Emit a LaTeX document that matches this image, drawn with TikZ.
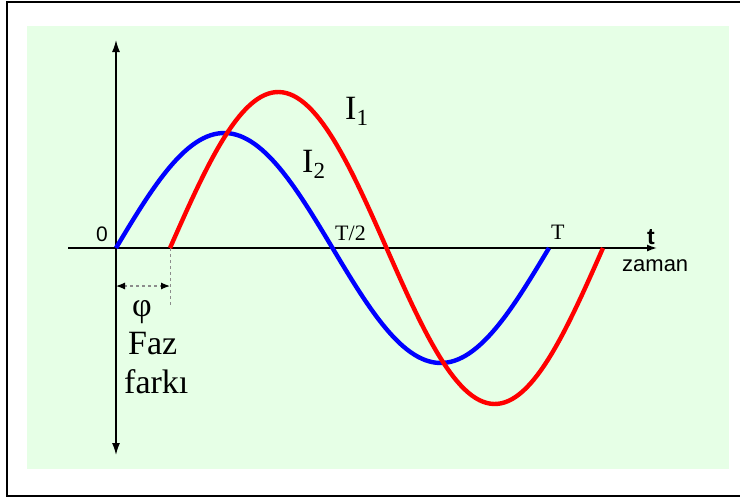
\documentclass[tikz,border=0pt]{standalone}
\usepackage{fontspec}
\setmainfont{Liberation Serif}
\newfontfamily\arialfont{Liberation Sans}
\usetikzlibrary{arrows.meta}
\definecolor{bggreen}{RGB}{230,255,230}
\definecolor{dashgray}{RGB}{140,140,140}
\begin{document}
\begin{tikzpicture}[x=1pt,y=-1pt,
  axisline/.style={line width=1.4pt},
  wave/.style={line width=4.4pt},
  lbl/.style={inner sep=0pt, anchor=base west},
  big/.style={font=\fontsize{34}{34}\selectfont},
  mid/.style={font=\fontsize{22}{22}\selectfont},
  sans/.style={font=\arialfont\fontsize{22}{22}\selectfont},
  phasearrow/.style={dashgray, line width=1.2pt, dash pattern=on 3pt off 3pt,
     {Latex[length=9pt,width=7pt,black]}-{Latex[length=9pt,width=7pt,black]}}]
\useasboundingbox (0,0) rectangle (740,498);
\draw[line width=2pt] (7,2) rectangle (745,496);
\fill[bggreen] (27,26) rectangle (729,469);
% axes
\coordinate (xl) at (68,248);
\coordinate (xr) at (657,248);
\coordinate (yt) at (116,40);
\coordinate (yb) at (116,455);
\coordinate (O) at (116,248);
\coordinate (R0) at (170,248);
\coordinate (Rd) at (170,307);
\coordinate (pl) at (116,286);
\coordinate (pr) at (170,286);
\draw[axisline, -{Latex[length=10pt,width=7pt]}] (xl) -- (xr);
\draw[axisline, {Latex[length=12pt,width=8pt]}-{Latex[length=12pt,width=8pt]}] (yb) -- (yt);
% phase marks
\draw[dashgray, line width=1pt, dash pattern=on 3pt off 3pt] (R0) -- (Rd);
\draw[phasearrow] (pl) -- (pr);
% waves
\draw[wave, blue] plot[domain=0:360, samples=120] ({116+\x/360*433},{248-115*sin(\x)});
\draw[wave, red] plot[domain=0:360, samples=120] ({170+\x/360*433},{248-156*sin(\x)});
% labels
\node[lbl, font=\arialfont\fontsize{21}{21}\selectfont] (zero) at (96,241) {0};
\node[lbl, mid] (half) at (335,240) {T/2};
\node[lbl, mid] (per) at (551,239) {T};
\node[lbl, font=\arialfont\bfseries\fontsize{23}{23}\selectfont] (tt) at (647,244) {t};
\node[lbl, sans] (zaman) at (622,271) {zaman};
\node[lbl, big] (phi) at (132,316) {φ};
\node[lbl, big] (faz) at (128,354) {Faz};
\node[lbl, big] (fark) at (124,393) {farkı};
\node[lbl, big] (I1) at (345,119) {I\raisebox{-6pt}{\fontsize{23}{23}\selectfont 1}};
\node[lbl, big] (I2) at (302,172) {I\raisebox{-6pt}{\fontsize{23}{23}\selectfont 2}};
\end{tikzpicture}
\end{document}
